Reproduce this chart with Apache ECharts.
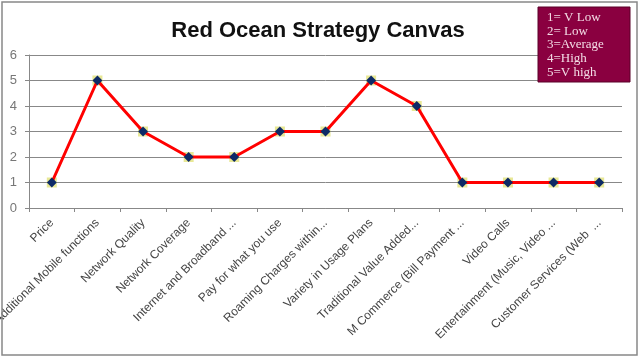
<!DOCTYPE html>
<html><head><meta charset="utf-8">
<script src="https://cdn.jsdelivr.net/npm/echarts@6/dist/echarts.min.js"></script>
<style>html,body{margin:0;padding:0;background:#fff}#c{width:640px;height:359px}</style>
</head><body><div id="c"></div>
<script>
var categories = ["Price","Additional Mobile functions","Network Quality","Network Coverage","Internet and Broadband ...","Pay for what you use","Roaming Charges within...","Variety in Usage Plans","Traditional Value Added...","M Commerce (Bill Payment ...","Video Calls","Entertainment (Music, Video ...","Customer Services (Web  ..."];
var values = [1,5,3,2,2,3,3,5,4,1,1,1,1];
var yTicks = [0,1,2,3,4,5,6];
var legendLines = ["1= V Low","2= Low","3=Average","4=High","5=V high"];

var chart = echarts.init(document.getElementById('c'), null, {renderer:'canvas'});
chart.setOption({
  animation:false,
  backgroundColor:'#fff',
  title:{text:'Red Ocean Strategy Canvas', left:313, top:15, textAlign:'center',
    textStyle:{fontFamily:'Liberation Sans, Arial', fontSize:22, fontWeight:'bold', color:'#111'}},
  grid:{left:29, right:18, top:55, bottom:151, containLabel:false, outerBoundsMode:'none'},
  xAxis:{type:'category', data:categories, boundaryGap:true,
    axisLine:{lineStyle:{color:'#888', width:1}},
    axisTick:{show:true, length:4, alignWithLabel:false, lineStyle:{color:'#888'}},
    axisLabel:{interval:0, rotate:45, color:'#444', fontSize:12, fontFamily:'Liberation Sans, Arial', margin:13}},
  yAxis:{type:'value', min:yTicks[0], max:yTicks[yTicks.length-1], interval:1,
    axisLine:{show:true, lineStyle:{color:'#888'}},
    axisTick:{show:true, length:4, lineStyle:{color:'#888'}},
    axisLabel:{color:'#777', fontSize:13, fontFamily:'Liberation Sans, Arial', margin:12},
    splitLine:{lineStyle:{color:'#888', width:1}}},
  series:[
    {type:'scatter', data:values, symbol:'rect', symbolSize:10, z:2,
     itemStyle:{color:'#e2e27a'}},
    {type:'line', data:values, symbol:'diamond', symbolSize:10, z:3,
     lineStyle:{color:'#ff0000', width:3},
     itemStyle:{color:'#0d2a66', borderWidth:0}}
  ],
  graphic:[
    {type:'rect', shape:{x:2, y:2, width:635, height:353}, style:{fill:null, stroke:'#888', lineWidth:1.5}, z:100},
    {type:'rect', shape:{x:538, y:7, width:92, height:75}, style:{fill:'#8a0040', stroke:'#5a0028', lineWidth:1}, z:101},
    {type:'text', left:547, top:11, z:102,
     style:{text:legendLines.join('\n'), fill:'#f4dce6', font:'13px "Liberation Serif", "Times New Roman", serif', lineHeight:13.6}}
  ]
});
</script></body></html>
